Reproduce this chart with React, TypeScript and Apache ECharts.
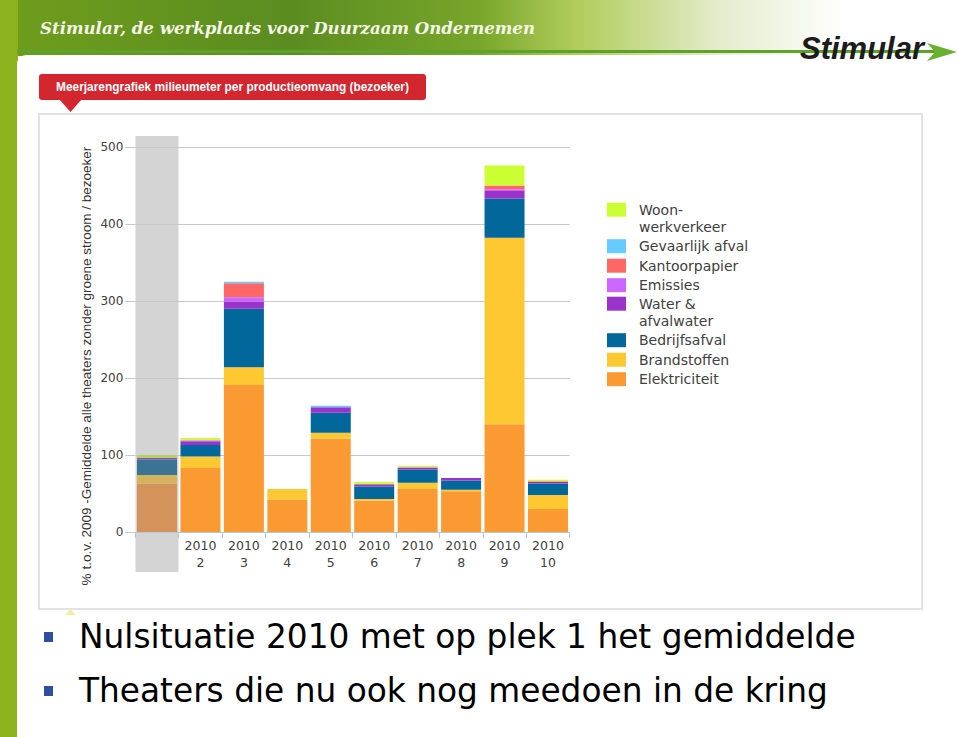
import React, { useEffect, useRef } from 'react';
import * as echarts from 'echarts';

// ---- data ----
const categories = ['', '2010\n2', '2010\n3', '2010\n4', '2010\n5', '2010\n6', '2010\n7', '2010\n8', '2010\n9', '2010\n10'];
const elektriciteit = [63, 83, 191, 42, 121, 41, 56, 53, 140, 30];
const brandstoffen = [11, 15, 23, 14, 8, 2, 8, 2, 242, 18];
const bedrijfsafval = [20, 15, 76, 0, 26, 16, 17, 12, 51, 15];
const waterAfvalwater = [2, 5, 9, 0, 7, 3, 2, 3, 10, 2];
const emissies = [0, 1, 6, 0, 0, 0, 1, 0, 2, 0];
const kantoorpapier = [0, 0, 18, 0, 0, 0, 0, 0, 5, 1];
const gevaarlijkAfval = [0, 0, 2, 0, 2, 0, 0, 0, 0, 0];
const woonWerkverkeer = [4, 3, 0, 0, 0, 3, 2, 0, 26, 2];
const yTicks = { min: 0, max: 500, interval: 100 };

const seriesDefs = [
  { name: 'Elektriciteit', data: elektriciteit, color: '#fb9a33', muted: '#d3935a' },
  { name: 'Brandstoffen', data: brandstoffen, color: '#fec832', muted: '#d5b35e' },
  { name: 'Bedrijfsafval', data: bedrijfsafval, color: '#02679a', muted: '#3b7395' },
  { name: 'Water & afvalwater', data: waterAfvalwater, color: '#9933cc', muted: '#8a5aa6' },
  { name: 'Emissies', data: emissies, color: '#cc66ff', muted: '#b58ad0' },
  { name: 'Kantoorpapier', data: kantoorpapier, color: '#ff6666', muted: '#d88a8a' },
  { name: 'Gevaarlijk afval', data: gevaarlijkAfval, color: '#66ccff', muted: '#8cc0dc' },
  { name: 'Woon-werkverkeer', data: woonWerkverkeer, color: '#ccff33', muted: '#b5cf6a' },
];

const legendA = ['Woon-werkverkeer', 'Gevaarlijk afval', 'Kantoorpapier', 'Emissies'];
const legendB = ['Water & afvalwater', 'Bedrijfsafval', 'Brandstoffen', 'Elektriciteit'];
const twoLine: Record<string, string> = {
  'Woon-werkverkeer': '\nWoon-\nwerkverkeer',
  'Water & afvalwater': '\nWater &\nafvalwater',
};

const title = 'Meerjarengrafiek milieumeter per productieomvang (bezoeker)';
const yTitle = '% t.o.v. 2009 -Gemiddelde alle theaters zonder groene stroom / bezoeker';
const header = 'Stimular, de werkplaats voor Duurzaam Ondernemen';
const bullets = ['Nulsituatie 2010 met op plek 1 het gemiddelde', 'Theaters die nu ook nog meedoen in de kring'];

export default function App() {
  const ref = useRef<HTMLDivElement>(null);
  useEffect(() => {
    if (!ref.current) return;
    const chart = echarts.init(ref.current, undefined, { renderer: 'svg' });

    const legendCommon = {
      orient: 'vertical' as const,
      left: 607,
      padding: 0,
      itemWidth: 19,
      itemHeight: 14,
      itemGap: 2.5,
      icon: 'rect',
      selectedMode: false,
      formatter: (n: string) => twoLine[n] || n,
      textStyle: {
        fontFamily: 'DejaVu Sans',
        fontSize: 14,
        color: '#404040',
        lineHeight: 17,
        padding: [0, 0, 0, 8],
      },
    };

    const option: any = {
      animation: false,
      backgroundColor: '#ffffff',
      grid: { left: 135.3, right: 389.3, top: 147, bottom: 205, containLabel: false },
      legend: [
        { ...legendCommon, top: 184.2, data: legendA },
        { ...legendCommon, top: 278.2, data: legendB },
      ],
      xAxis: {
        type: 'category',
        data: categories,
        axisLine: { lineStyle: { color: '#b4c8dc', width: 1 } },
        axisTick: { show: true, length: 6, lineStyle: { color: '#b4c8dc' } },
        axisLabel: {
          color: '#404040',
          fontFamily: 'DejaVu Sans',
          fontSize: 12.5,
          lineHeight: 17,
          margin: 5,
          interval: 0,
        },
      },
      yAxis: {
        type: 'value',
        min: yTicks.min,
        max: yTicks.max,
        interval: yTicks.interval,
        axisLine: { show: false },
        axisTick: { show: true, length: 10, lineStyle: { color: '#c8c8c8' } },
        splitLine: { lineStyle: { color: '#c8c8c8', width: 1 } },
        axisLabel: { color: '#404040', fontFamily: 'DejaVu Sans', fontSize: 12, margin: 12 },
      },
      series: seriesDefs.map((s) => ({
        name: s.name,
        type: 'bar',
        stack: 'total',
        barWidth: 40,
        itemStyle: { color: s.color, borderWidth: 0 },
        data: s.data.map((v, i) => (i === 0 ? { value: v, itemStyle: { color: s.muted } } : v)),
      })),
      graphic: {
        elements: [
          { type: 'rect', z: -20, shape: { x: 0, y: 0, width: 959, height: 737 }, style: { fill: '#ffffff' } },
          {
            type: 'rect', z: -19, shape: { x: 0, y: 0, width: 959, height: 56 },
            style: {
              fill: new echarts.graphic.LinearGradient(0, 0, 1, 0, [
                { offset: 0, color: '#6f9e1c' },
                { offset: 0.3, color: '#5a8c20' },
                { offset: 0.5, color: '#78a62a' },
                { offset: 0.6, color: '#b0cc5a' },
                { offset: 0.75, color: '#e4eccc' },
                { offset: 0.88, color: '#ffffff' },
                { offset: 1, color: '#ffffff' },
              ]),
            },
          },
          { type: 'rect', z: -19, shape: { x: 0, y: 0, width: 18, height: 737 }, style: { fill: '#8cb31e' } },
          { type: 'rect', z: -18, shape: { x: 17, y: 55, width: 942, height: 682, r: [9, 0, 0, 0] }, style: { fill: '#ffffff' } },
          { type: 'line', z: -17, shape: { x1: 17, y1: 51.5, x2: 936, y2: 51.5 }, style: { stroke: '#5ea22c', lineWidth: 3 } },
          { type: 'polygon', z: -17, shape: { points: [[927, 43], [957, 52], [927, 61], [935, 52]] }, style: { fill: '#6ab030' } },
          {
            type: 'text', z: 10, x: 40, y: 28,
            style: { text: header, fill: '#f6f6e8', font: 'italic bold 16.6px "DejaVu Serif"', textVerticalAlign: 'middle' },
          },
          {
            type: 'text', z: 10, x: 800, y: 48,
            style: { text: 'Stimular', fill: '#1c1c1c', font: 'italic bold 31px "Liberation Sans"', textVerticalAlign: 'middle' },
          },
          { type: 'rect', z: -16, shape: { x: 39, y: 74, width: 387, height: 26, r: 3 }, style: { fill: '#d3262f' } },
          { type: 'polygon', z: -16, shape: { points: [[59, 99], [82, 99], [70.5, 112]] }, style: { fill: '#d3262f' } },
          {
            type: 'text', z: 10, x: 232.5, y: 87,
            style: { text: title, fill: '#ffffff', font: 'bold 11.9px "Liberation Sans"', textAlign: 'center', textVerticalAlign: 'middle' },
          },
          { type: 'rect', z: -17, shape: { x: 39, y: 114, width: 883, height: 495 }, style: { fill: '#ffffff', stroke: '#e2e2e2', lineWidth: 2 } },
          { type: 'rect', z: -15, shape: { x: 135.5, y: 136, width: 43, height: 436 }, style: { fill: '#d4d4d4' } },
          {
            type: 'text', z: 10, x: 86, y: 366, rotation: Math.PI / 2,
            style: { text: yTitle, fill: '#333333', font: '13.5px "Liberation Sans"', textAlign: 'center', textVerticalAlign: 'middle' },
          },
          { type: 'polygon', z: -15, shape: { points: [[65, 615], [76, 615], [70.5, 609]] }, style: { fill: '#f5eea0' } },
          { type: 'rect', z: 10, shape: { x: 44, y: 632, width: 9, height: 10 }, style: { fill: '#2d4f9f' } },
          { type: 'rect', z: 10, shape: { x: 44, y: 686, width: 9, height: 10 }, style: { fill: '#2d4f9f' } },
          {
            type: 'text', z: 10, x: 79, y: 637,
            style: { text: bullets[0], fill: '#000000', font: '32.8px "DejaVu Sans"', textVerticalAlign: 'middle' },
          },
          {
            type: 'text', z: 10, x: 79, y: 691,
            style: { text: bullets[1], fill: '#000000', font: '32.8px "DejaVu Sans"', textVerticalAlign: 'middle' },
          },
        ],
      },
    };
    chart.setOption(option);
    return () => chart.dispose();
  }, []);
  return <div ref={ref} style={{ position: 'fixed', left: 0, top: 0, width: 959, height: 737 }} />;
}
